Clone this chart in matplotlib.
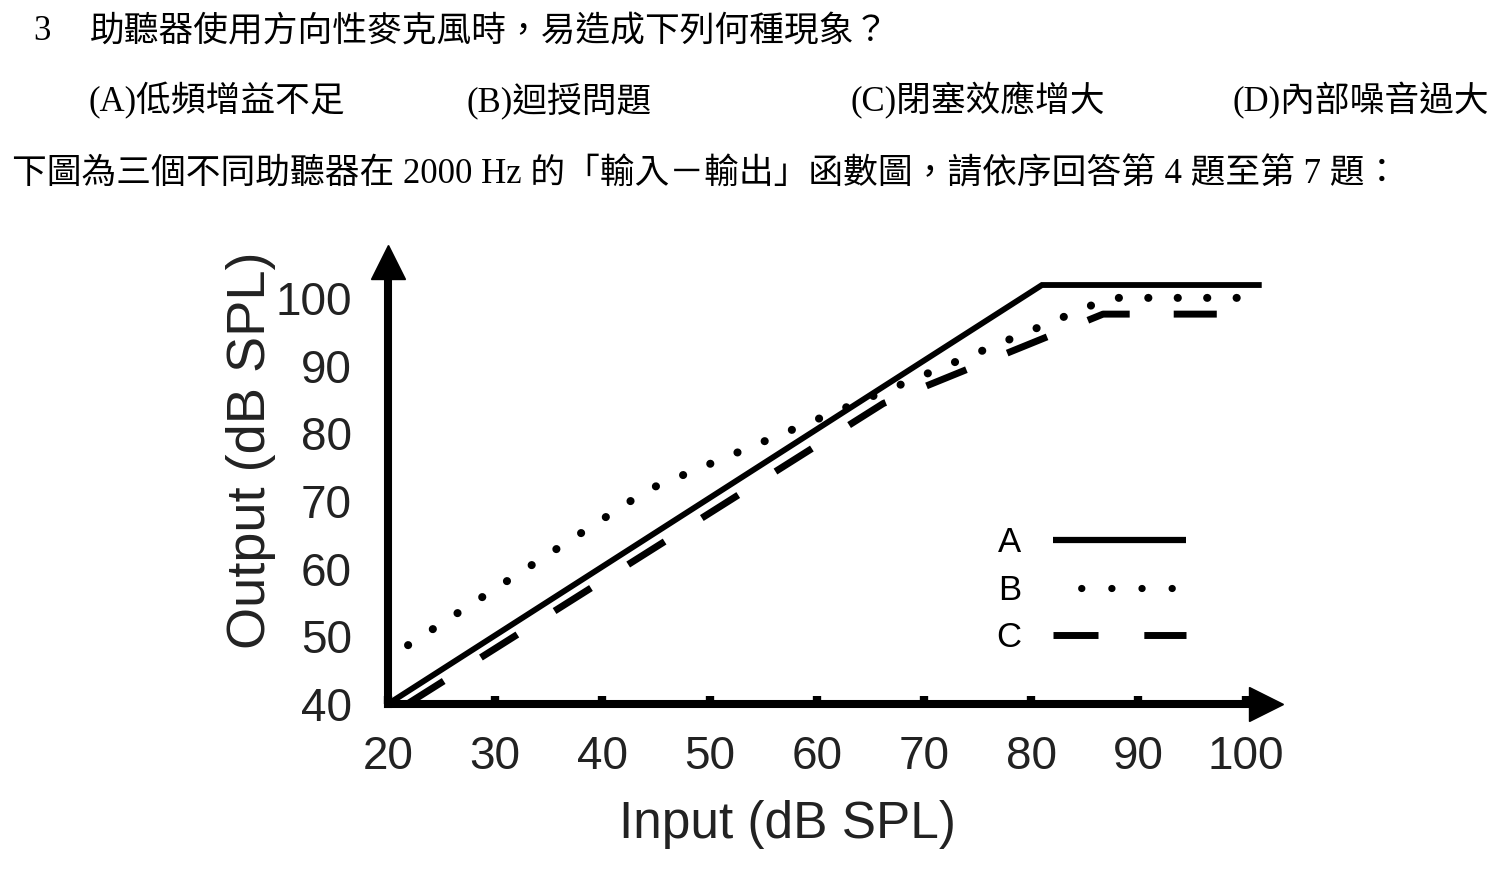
import matplotlib
matplotlib.use("Agg")
import matplotlib.pyplot as plt
from matplotlib.lines import Line2D

plt.rcParams['font.family'] = ['Liberation Sans', 'Noto Sans CJK TC', 'DejaVu Sans']
plt.rcParams['lines.scale_dashes'] = False

# question text above the chart
q_number = "3"
question = "助聽器使用方向性麥克風時，易造成下列何種現象？"
options = ["(A)低頻增益不足", "(B)迴授問題", "(C)閉塞效應增大", "(D)內部噪音過大"]
intro = "下圖為三個不同助聽器在 2000 Hz 的「輸入－輸出」函數圖，請依序回答第 4 題至第 7 題："

# input/output curves (dB SPL)
input_a = [20, 81, 101.5]
output_a = [40, 101.9, 101.9]
input_b = [21, 44.3, 87.3, 100.4]
output_b = [47.8, 71.7, 100.0, 100.0]
input_c = [21.8, 66.2, 86.7, 101.2]
output_c = [40, 84.4, 97.6, 97.6]

x_ticks = [20, 30, 40, 50, 60, 70, 80, 90, 100]
y_ticks = [40, 50, 60, 70, 80, 90, 100]
series_names = ["A", "B", "C"]

W, H = 1489, 871
fig = plt.figure(figsize=(W / 100, H / 100), dpi=100)

serif_cjk = ['Liberation Serif', 'Noto Sans CJK TC']
fig.text(42 / W, 1 - 32 / H, q_number, family=serif_cjk, fontsize=25, ha='center', va='center')
fig.text(90 / W, 1 - 32 / H, question, family=serif_cjk, fontsize=25, ha='left', va='center')
for x0, opt in zip([88, 467, 851, 1233], options):
    fig.text(x0 / W, 1 - 101 / H, opt, family=serif_cjk, fontsize=25, ha='left', va='center')
fig.text(12 / W, 1 - 175 / H, intro, family=serif_cjk, fontsize=25, ha='left', va='center')

# axes placed so the origin sits where it does in the figure
left, right, bottom, top = 388, 1266, 704, 262
ax = fig.add_axes([left / W, 1 - bottom / H, (right - left) / W, (bottom - top) / H])
ax.set_xlim(20, 101.9)
ax.set_ylim(40, 105.3)

ax.plot(input_a, output_a, color='black', lw=4.2, solid_capstyle='butt', solid_joinstyle='miter')
ax.plot(input_b, output_b, color='black', lw=5.8, linestyle=(13.2, (0.1, 21.1)),
        dash_capstyle='round')
ax.plot(input_c, output_c, color='black', lw=5.0, linestyle=(0, (31, 31.7)),
        dash_capstyle='butt')

for side in ['top', 'right']:
    ax.spines[side].set_visible(False)
for side in ['left', 'bottom']:
    ax.spines[side].set_linewidth(5.8)
    ax.spines[side].set_color('black')

# arrow heads on the axes
ax.plot(1, 0, '>', color='black', ms=24, transform=ax.transAxes, clip_on=False)
ax.plot(0, 1, '^', color='black', ms=24, transform=ax.transAxes, clip_on=False)

ax.set_xticks(x_ticks)
ax.set_yticks(y_ticks)
ax.tick_params(axis='x', direction='in', length=6, width=6, color='black',
               labelsize=33, labelcolor='#222222', pad=22)
ax.tick_params(axis='y', length=0, labelsize=33, labelcolor='#222222', pad=26)

ax.set_xlabel("Input (dB SPL)", fontsize=37, color='#222222')
ax.xaxis.set_label_coords(0.4544, -0.218)
ax.set_ylabel("Output (dB SPL)", fontsize=39, color='#222222')
ax.yaxis.set_label_coords(-0.128, 0.574)

handles = [
    Line2D([], [], color='black', lw=4.5, solid_capstyle='butt'),
    Line2D([], [], color='black', lw=5.2, linestyle=(1.4, (0.1, 21.6)), dash_capstyle='round'),
    Line2D([], [], color='black', lw=5.0, linestyle=(0, (32.4, 33)), dash_capstyle='butt'),
]
leg = ax.legend(handles, series_names, loc='center', bbox_to_anchor=(0.801, 0.257),
                frameon=False, markerfirst=False, fontsize=25, handlelength=3.85,
                handletextpad=0.9, labelspacing=0.42, borderpad=0, borderaxespad=0)

fig.savefig("out.png", dpi=100)
